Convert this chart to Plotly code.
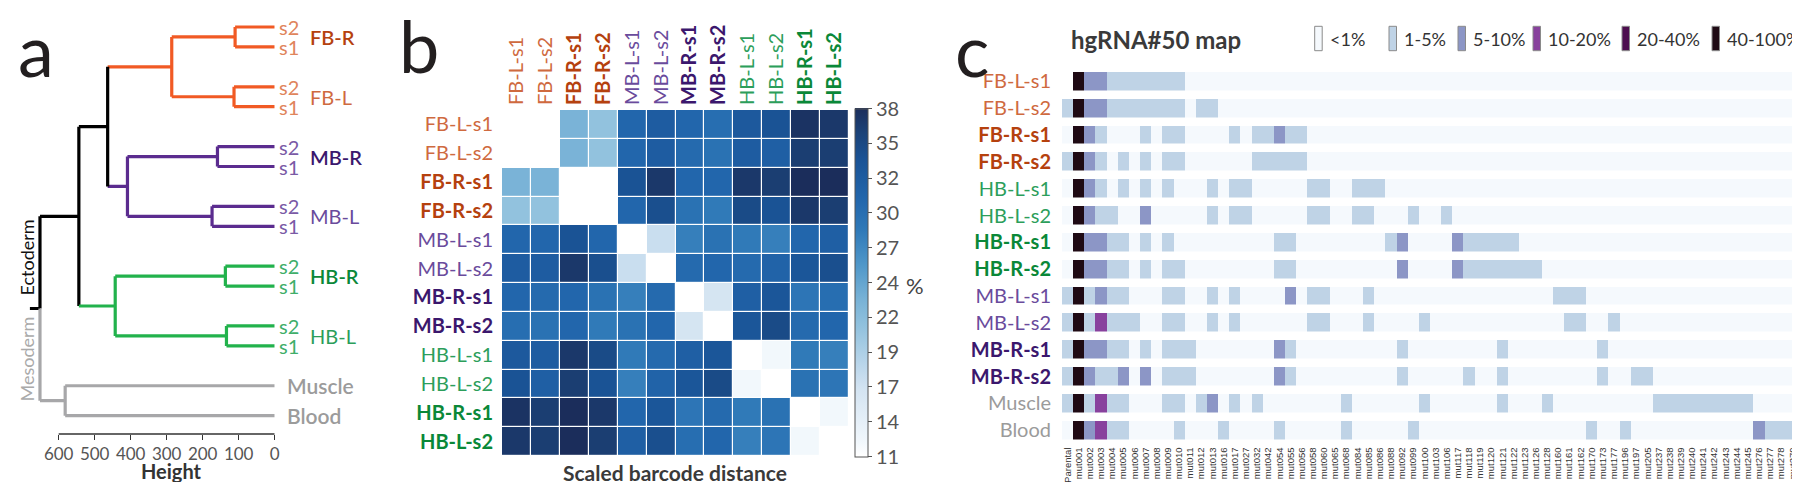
import plotly.graph_objects as go
import numpy as np

W, H = 1800, 482
def px(x): return x / W
def py(y): return 1 - y / H

FONT = "Lato, 'Open Sans', sans-serif"
ARIAL = "'Liberation Sans', Arial, sans-serif"

# ================= Panel a : dendrogram =================
leaf_labels = ["s2", "s1", "s2", "s1", "s2", "s1", "s2", "s1", "s2", "s1", "s2", "s1", "Muscle", "Blood"]
leaf_groups = ["FB-R", "FB-R", "FB-L", "FB-L", "MB-R", "MB-R", "MB-L", "MB-L",
               "HB-R", "HB-R", "HB-L", "HB-L", "Muscle", "Blood"]
leaf_slots = [0, 1, 3, 4, 6, 7, 9, 10, 12, 13, 15, 16, 18, 19.5]
# (node, child a, child b, height, colour key)
merges = [
    ("FBR", "L0", "L1", 110, "FB"),
    ("FBL", "L2", "L3", 113, "FB"),
    ("FB", "FBR", "FBL", 286, "FB"),
    ("MBR", "L4", "L5", 159, "MB"),
    ("MBL", "L6", "L7", 174, "MB"),
    ("MB", "MBR", "MBL", 409, "MB"),
    ("FBMB", "FB", "MB", 464, "ECTO"),
    ("HBR", "L8", "L9", 137, "HB"),
    ("HBL", "L10", "L11", 134, "HB"),
    ("HB", "HBR", "HBL", 443, "HB"),
    ("ECTO", "FBMB", "HB", 544, "ECTO"),
    ("MESO", "L12", "L13", 582, "MESO"),
    ("ROOT", "ECTO", "MESO", 652, "ROOT"),
]
height_ticks = [600, 500, 400, 300, 200, 100, 0]
branch_colors = {"FB": "#f15a24", "MB": "#5b2c8f", "HB": "#22b24c",
                 "ECTO": "#000000", "MESO": "#a7a7a9", "ROOT": "#000000"}

# ================= Panel b : heatmap =================
b_labels = ["FB-L-s1", "FB-L-s2", "FB-R-s1", "FB-R-s2", "MB-L-s1", "MB-L-s2",
            "MB-R-s1", "MB-R-s2", "HB-L-s1", "HB-L-s2", "HB-R-s1", "HB-L-s2"]
b_groups = ["FB-L", "FB-L", "FB-R", "FB-R", "MB-L", "MB-L", "MB-R", "MB-R",
            "HB-L", "HB-L", "HB-R", "HB-R"]
N = None
b_values = [
    [N, 11, 23, 21, 31, 32.5, 31, 30, 33, 34, 37.5, 37],
    [11, N, 23, 21, 31, 32.5, 30.5, 29.5, 32.5, 32, 36.5, 36.5],
    [23, 23, N, 11, 34, 37, 31, 31, 37, 36.5, 38, 38],
    [21, 21, 11, N, 31, 34.5, 29.5, 28.5, 35, 34, 37, 36.5],
    [31, 31, 34, 31, N, 17, 28, 29.5, 28.5, 28, 31, 32],
    [32.5, 32.5, 37, 34.5, 17, N, 30.5, 31, 30.5, 31.5, 33.5, 34.5],
    [31, 30.5, 31, 29.5, 28, 30.5, N, 16, 32, 33.5, 29, 30],
    [30, 29.5, 31, 28.5, 29.5, 31, 16, N, 33.5, 35, 30.5, 31],
    [33, 32.5, 37, 35, 28.5, 30.5, 32, 33.5, N, 12, 28.5, 28],
    [34, 32, 36.5, 34, 28, 31.5, 33.5, 35, 12, N, 29.5, 29],
    [37.5, 36.5, 38, 37, 31, 33.5, 29, 30.5, 28.5, 29.5, N, 12],
    [37, 36.5, 38, 36.5, 32, 34.5, 30, 31, 28, 29, 12, N],
]
cb_ticktext = ["11", "14", "17", "19", "22", "24", "27", "30", "32", "35", "38"]

# ================= Panel c : hgRNA#50 map =================
c_columns = ["Parental", "mut001", "mut002", "mut003", "mut004", "mut005", "mut006", "mut007",
             "mut008", "mut009", "mut010", "mut011", "mut012", "mut013", "mut016", "mut017",
             "mut027", "mut032", "mut042", "mut054", "mut055", "mut056", "mut058", "mut060",
             "mut065", "mut068", "mut084", "mut085", "mut086", "mut088", "mut092", "mut099",
             "mut100", "mut103", "mut106", "mut117", "mut118", "mut119", "mut120", "mut121",
             "mut122", "mut123", "mut126", "mut128", "mut160", "mut161", "mut162", "mut170",
             "mut173", "mut177", "mut196", "mut197", "mut205", "mut237", "mut238", "mut239",
             "mut240", "mut241", "mut242", "mut243", "mut244", "mut245", "mut276", "mut277",
             "mut278", "mut279"]
c_rows = ["FB-L-s1", "FB-L-s2", "FB-R-s1", "FB-R-s2", "HB-L-s1", "HB-L-s2", "HB-R-s1", "HB-R-s2",
          "MB-L-s1", "MB-L-s2", "MB-R-s1", "MB-R-s2", "Muscle", "Blood"]
c_row_groups = ["FB-L", "FB-L", "FB-R", "FB-R", "HB-L", "HB-L", "HB-R", "HB-R",
                "MB-L", "MB-L", "MB-R", "MB-R", "Muscle", "Blood"]
# level per column: 0 <1%, 1 1-5%, 2 5-10%, 3 10-20%, 4 20-40%, 5 40-100%, '-' no data
c_levels = [
    "-522111111" "1000000000" "0000000000" "0000000000" "0000000000" "0000000000" "000000",
    "1522111111" "1011000000" "0000000000" "0000000000" "0000000000" "0000000000" "000000",
    "0521000101" "1000010112" "1100000000" "0000000000" "0000000000" "0000000000" "000000",
    "1521010101" "1000000111" "1100000000" "0000000000" "0000000000" "0000000000" "000000",
    "0521010101" "0001011000" "0011001110" "0000000000" "0000000000" "0000000000" "000000",
    "0521100200" "0001011000" "0011001100" "0100100000" "0000000000" "0000000000" "000000",
    "0522110101" "0000000001" "1000000001" "2000021111" "1000000000" "0000000000" "000000",
    "0522110101" "1000000001" "1000000000" "2000021111" "1110000000" "0000000000" "000000",
    "1512110001" "1001010000" "2011000100" "0000000000" "0000111000" "0000000000" "000000",
    "1513111001" "1001010000" "0011000100" "0010000000" "0000011001" "0000000000" "000000",
    "1522110101" "1100000002" "1000000000" "1000000001" "0000000010" "0000000000" "000000",
    "1521120201" "1100000002" "1000000000" "1000001001" "0000000010" "0110000000" "000000",
    "1513110001" "1012010100" "0000010000" "0010000001" "0001000000" "0001111111" "110000",
    "0523110000" "1000100001" "0000010000" "0100000000" "0000000100" "1000000000" "002111",
]
level_names = ["<1%", "1-5%", "5-10%", "10-20%", "20-40%", "40-100%"]
level_colors = ["#f5f9fd", "#bfd3e6", "#8c96c6", "#88419d", "#4d0e4f", "#1f0a14"]

# ---------------- colours for labels ----------------
group_colors = {"FB-L": "#cf6a3f", "FB-R": "#b5410e", "MB-L": "#6a4b9c", "MB-R": "#3b176d",
                "HB-L": "#2c9e5b", "HB-R": "#0a8838", "Muscle": "#9b9b9b", "Blood": "#9b9b9b"}
leaf_s_colors = {"FB": "#e0845c", "MB": "#7a5aa6", "HB": "#3fae6a"}

fig = go.Figure()

# ================= draw panel a =================
SLOT_PX, Y0 = 19.93, 19.0
pos = {}
hgt = {}
col = {}
for i, s in enumerate(leaf_slots):
    pos[f"L{i}"] = s
    hgt[f"L{i}"] = 0
for node, a, b, h, ck in merges:
    pos[node] = (pos[a] + pos[b]) / 2
    hgt[node] = h
    col[node] = branch_colors[ck]
    for c in (a, b):
        if c.startswith("L"):
            col[c] = branch_colors[ck]

segs = {}
def add_seg(color, x0, x1, y0, y1):
    xs, ys = segs.setdefault(color, ([], []))
    xs += [x0, x1, None]
    ys += [y0, y1, None]

for node, a, b, h, ck in merges:
    for c in (a, b):
        add_seg(col[c], h, hgt[c], pos[c], pos[c])
    if node == "ROOT":
        mid = (pos[a] + pos[b]) / 2
        add_seg(col[a], h, h, pos[a], mid)
        add_seg(col[b], h, h, mid, pos[b])
        add_seg(col[a], h, 680, mid, mid)
    else:
        add_seg(col[node], h, h, pos[a], pos[b])

for color, (xs, ys) in segs.items():
    fig.add_trace(go.Scatter(x=xs, y=ys, mode="lines", xaxis="x", yaxis="y",
                             line=dict(color=color, width=3.2), hoverinfo="skip",
                             showlegend=False))

AX_BOTTOM = 426
fig.update_layout(
    xaxis=dict(domain=[px(14.7), px(266.7)], range=[700, 0], tickvals=height_ticks,
               ticktext=[str(t) for t in height_ticks], ticks="outside", ticklen=5,
               tickcolor="#333", tickwidth=1.3, showgrid=False, zeroline=False, showline=False,
               tickfont=dict(family=FONT, size=17, color="#555"), anchor="y",
               automargin=False),
    yaxis=dict(domain=[py(AX_BOTTOM), py(5)],
               range=[(AX_BOTTOM - Y0) / SLOT_PX, (5 - Y0) / SLOT_PX],
               visible=False, anchor="x", automargin=False),
)
fig.add_shape(type="line", xref="x", yref="paper", x0=height_ticks[0], x1=height_ticks[-1],
              y0=py(AX_BOTTOM), y1=py(AX_BOTTOM), line=dict(color="#333", width=1.5))

ann = []
def slot_to_py(s):
    return py(Y0 + SLOT_PX * s)

for i, (lab, grp) in enumerate(zip(leaf_labels, leaf_groups)):
    if lab in ("s1", "s2"):
        ann.append(dict(x=px(269), y=slot_to_py(leaf_slots[i]), text=lab, xanchor="left",
                        yanchor="middle", font=dict(family=FONT, size=20,
                                                    color=leaf_s_colors[grp[:2]])))
    else:
        ann.append(dict(x=px(277), y=slot_to_py(leaf_slots[i]), text=lab, xanchor="left",
                        yanchor="middle", font=dict(family=FONT, size=21, color="#9b9b9b",
                                                    weight=600)))
for i in range(0, 12, 2):
    grp = leaf_groups[i]
    ann.append(dict(x=px(300), y=slot_to_py((leaf_slots[i] + leaf_slots[i + 1]) / 2), text=grp,
                    xanchor="left", yanchor="middle",
                    font=dict(family=FONT, size=20, color=group_colors[grp],
                              weight=600 if grp.endswith("R") else 400)))

ann += [
    dict(x=px(18.5), y=py(250), text="Ectoderm", textangle=-90, xanchor="center", yanchor="middle",
         font=dict(family=FONT, size=18, color="#111")),
    dict(x=px(18.5), y=py(351), text="Mesoderm", textangle=-90, xanchor="center", yanchor="middle",
         font=dict(family=FONT, size=18, color="#aaaaaa")),
    dict(x=px(163), y=py(463), text="Height", xanchor="center", yanchor="middle",
         font=dict(family=FONT, size=20, color="#333", weight=700)),
    dict(x=px(28), y=py(41), text="a", xanchor="center", yanchor="middle",
         font=dict(family=FONT, size=72, color="#231f20")),
    dict(x=px(411), y=py(37), text="b", xanchor="center", yanchor="middle",
         font=dict(family=FONT, size=72, color="#231f20")),
    dict(x=px(964), y=py(41), text="c", xanchor="center", yanchor="middle",
         font=dict(family=FONT, size=72, color="#231f20")),
]

# ================= draw panel b =================
blues = [[0, "#ffffff"], [0.04, "#f1f7fc"], [0.19, "#d4e4f2"], [0.23, "#c6dcee"],
         [0.37, "#92c2de"], [0.45, "#78b2d6"], [0.55, "#4f97c9"], [0.65, "#2f79b8"],
         [0.74, "#2266ac"], [0.85, "#1a5396"], [0.93, "#1b4278"], [1, "#1b2d5b"]]
cb_vals = list(np.linspace(11, 38, len(cb_ticktext)))
fig.add_trace(go.Heatmap(
    z=b_values, x=list(range(12)), y=list(range(12)), xaxis="x2", yaxis="y2",
    colorscale=blues, zmin=11, zmax=38, xgap=1.2, ygap=1.2, hoverongaps=False,
    colorbar=dict(x=px(847.3), xanchor="left", xpad=0, ypad=0, thickness=12.5,
                  lenmode="fraction", len=(448.3 - 100.7) / H, y=py((448.3 + 100.7) / 2),
                  yanchor="middle", tickvals=cb_vals, ticktext=cb_ticktext, ticks="outside",
                  ticklen=4, tickcolor="#555", outlinewidth=1, outlinecolor="#555",
                  tickfont=dict(family=FONT, size=20, color="#555")),
))

def styled(lab, grp):
    t = f"<span style='color:{group_colors[grp]}'>{lab}</span>"
    if grp.endswith("R"):
        t = f"<b>{t}</b>"
    return t

b_ticktext = [styled(l, g) for l, g in zip(b_labels, b_groups)]
fig.update_layout(
    xaxis2=dict(domain=[px(494), px(841)], range=[-0.5, 11.5], side="top", anchor="y2",
                tickvals=list(range(12)), ticktext=b_ticktext, tickangle=-90, ticks="",
                ticklabelstandoff=4, showgrid=False, zeroline=False, showline=False,
                tickfont=dict(family=FONT, size=20), automargin=False),
    yaxis2=dict(domain=[py(448), py(102)], range=[11.5, -0.5], anchor="x2",
                tickvals=list(range(12)), ticktext=b_ticktext, ticks="", ticklabelstandoff=8,
                showgrid=False, zeroline=False, showline=False,
                tickfont=dict(family=FONT, size=20), automargin=False),
)
ann += [
    dict(x=px(907), y=py(277), text="%", xanchor="center", yanchor="middle",
         font=dict(family=FONT, size=22, color="#444")),
    dict(x=px(667), y=py(464), text="Scaled barcode distance", xanchor="center",
         yanchor="middle", font=dict(family=FONT, size=21, color="#3a3a3a", weight=700)),
]

# ================= draw panel c =================
z_c = [[(None if ch == "-" else int(ch)) for ch in row] for row in c_levels]
nlev = len(level_colors)
cs = []
for k, c in enumerate(level_colors):
    lo = max(0.0, (k - 0.5) / (nlev - 1))
    hi = min(1.0, (k + 0.5) / (nlev - 1))
    cs += [[lo, c], [hi, c]]
fig.add_trace(go.Heatmap(
    z=z_c, x=list(range(len(c_columns))), y=list(range(len(c_rows))), xaxis="x3", yaxis="y3",
    colorscale=cs, zmin=0, zmax=nlev - 1, showscale=False, xgap=0, ygap=8.5,
    hoverongaps=False,
))
c_ticktext = [styled(l, g) if g not in ("Muscle", "Blood")
              else f"<span style='color:{group_colors[g]}'>{l}</span>"
              for l, g in zip(c_rows, c_row_groups)]
fig.update_layout(
    xaxis3=dict(domain=[px(1054), px(1790)], range=[-0.5, len(c_columns) - 0.5], anchor="y3",
                tickvals=list(range(len(c_columns))), ticktext=c_columns, tickangle=-90,
                ticks="", ticklabelstandoff=1, showgrid=False, zeroline=False, showline=False,
                tickfont=dict(family=ARIAL, size=9.5, color="#333"), automargin=False),
    yaxis3=dict(domain=[py(435.6), py(60)], range=[len(c_rows) - 0.5, -0.5], anchor="x3",
                tickvals=list(range(len(c_rows))), ticktext=c_ticktext, ticks="",
                ticklabelstandoff=10, showgrid=False, zeroline=False, showline=False,
                tickfont=dict(family=FONT, size=20), automargin=False),
)
ann.append(dict(x=px(1061), y=py(32), text="hgRNA#50 map", xanchor="left", yanchor="middle",
                font=dict(family=FONT, size=24, color="#3a3a3a", weight=700)))
legend_box_x = [1306.7, 1381, 1450, 1525, 1614, 1704]
for bx, name, c in zip(legend_box_x, level_names, level_colors):
    fig.add_shape(type="rect", xref="paper", yref="paper", x0=px(bx), x1=px(bx + 7.5),
                  y0=py(42.7), y1=py(18.3), fillcolor=c, line=dict(color="#8a8a8a", width=1))
    ann.append(dict(x=px(bx + 13), y=py(31), text=name, xanchor="left", yanchor="middle",
                    font=dict(family=FONT, size=18, color="#333")))

for a in ann:
    a.setdefault("xref", "paper")
    a.setdefault("yref", "paper")
    a.setdefault("showarrow", False)

fig.update_layout(
    width=W, height=H, margin=dict(l=0, r=0, t=0, b=0, autoexpand=False),
    paper_bgcolor="white", plot_bgcolor="white", annotations=ann, showlegend=False,
    font=dict(family=FONT),
)
fig.write_html("out.html")
